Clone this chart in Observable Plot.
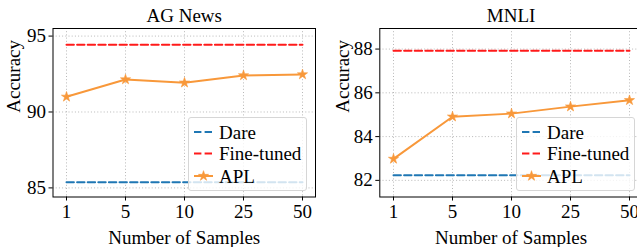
<!DOCTYPE html>
<html>
<head>
<meta charset="utf-8">
<script src="https://cdn.jsdelivr.net/npm/d3@7"></script>
<script src="https://cdn.jsdelivr.net/npm/@observablehq/plot@0.6"></script>
<style>
  html, body { margin: 0; padding: 0; background: #fff; overflow: hidden; }
  #root { position: relative; width: 637px; height: 247px; overflow: hidden; font-family: "Liberation Serif", "Times New Roman", "DejaVu Serif", serif; }
  .panel { position: absolute; top: 0; }
  .panel svg { max-width: none !important; }
  .panel svg, .panel svg text { font-family: "Liberation Serif", "Times New Roman", "DejaVu Serif", serif !important; }
  .legend { position: absolute; box-sizing: border-box; border: 1px solid #d6d6d6; border-radius: 3px; background: rgba(255,255,255,0.8); }
  .legend text { font-family: "Liberation Serif", "Times New Roman", "DejaVu Serif", serif; }
</style>
</head>
<body>
<div id="root"></div>
<script>
// ---- data ----
const samples = ["1", "5", "10", "25", "50"];
const agTitle = "AG News";
const agAPL = [91.0, 92.14, 91.93, 92.41, 92.47];
const agDare = 85.37;
const agFine = 94.43;
const agTicks = [85, 90, 95];
const mnTitle = "MNLI";
const mnAPL = [82.98, 84.91, 85.05, 85.37, 85.66];
const mnDare = 82.23;
const mnFine = 87.92;
const mnTicks = [82, 84, 86, 88];
const seriesNames = ["Dare", "Fine-tuned", "APL"];
const colors = {"Dare": "#1f77b4", "Fine-tuned": "#ff1a1a", "APL": "#f8983a"};

const FONT = "'Liberation Serif', 'Times New Roman', 'DejaVu Serif', serif";
const FS = 19;
const dash = "7.4,3.2";

function panel({title, apl, dare, fine, ticks, yDomain, left, width, mLeft, mRight, yLabelDx}) {
  const aplRows = samples.map((s, i) => ({s, v: apl[i]}));
  const dareRows = samples.map(s => ({s, v: dare}));
  const fineRows = samples.map(s => ({s, v: fine}));
  const chart = Plot.plot({
    width, height: 247,
    marginLeft: mLeft, marginRight: mRight, marginTop: 28, marginBottom: 50.5,
    style: {fontFamily: FONT, fontSize: FS + "px", color: "#000", background: "transparent", overflow: "visible", maxWidth: "none"},
    x: {type: "point", domain: samples, padding: 0.2},
    y: {domain: yDomain},
    marks: [
      Plot.gridX(samples, {stroke: "#b8b8b8", strokeOpacity: 1, strokeDasharray: "1,2.2", strokeWidth: 1}),
      Plot.gridY(ticks, {stroke: "#b8b8b8", strokeOpacity: 1, strokeDasharray: "1,2.2", strokeWidth: 1}),
      Plot.line(dareRows, {x: "s", y: "v", stroke: colors["Dare"], strokeWidth: 2, strokeDasharray: dash}),
      Plot.line(fineRows, {x: "s", y: "v", stroke: colors["Fine-tuned"], strokeWidth: 2, strokeDasharray: dash}),
      Plot.line(aplRows, {x: "s", y: "v", stroke: colors["APL"], strokeWidth: 2}),
      Plot.dot(aplRows, {x: "s", y: "v", symbol: "star", r: 3.2, fill: colors["APL"], stroke: colors["APL"], strokeWidth: 0.6}),
      Plot.frame({stroke: "#000", strokeWidth: 1}),
      Plot.axisX(samples, {tickSize: 4, tickPadding: 3, label: null, fontSize: FS, tickFormat: d => d}),
      Plot.axisY(ticks, {tickSize: 4, tickPadding: 3, label: null, fontSize: FS}),
      Plot.text([title], {frameAnchor: "top", dy: -13, lineAnchor: "middle", fontSize: FS, fill: "#000"}),
      Plot.text(["Number of Samples"], {frameAnchor: "bottom", dy: 40.5, lineAnchor: "middle", fontSize: FS, fill: "#000"}),
      Plot.text(["Accuracy"], {frameAnchor: "left", dx: yLabelDx, rotate: -90, lineAnchor: "middle", fontSize: FS, fill: "#000"})
    ]
  });
  const wrap = document.createElement("div");
  wrap.className = "panel";
  wrap.style.left = left + "px";
  wrap.style.width = width + "px";
  wrap.appendChild(chart);
  return wrap;
}

function legend(left, top) {
  const w = 119, h = 74;
  const div = document.createElement("div");
  div.className = "legend";
  div.style.left = left + "px";
  div.style.top = top + "px";
  div.style.width = w + "px";
  div.style.height = h + "px";
  const svg = d3.create("svg").attr("width", w).attr("height", h).style("position", "absolute").style("left", "-1px").style("top", "-1px");
  const rowsY = [15, 36.5, 59];
  seriesNames.forEach((name, i) => {
    const y = rowsY[i];
    const g = svg.append("g");
    g.append("line").attr("x1", 6).attr("x2", 25).attr("y1", y).attr("y2", y)
      .attr("stroke", colors[name]).attr("stroke-width", 2)
      .attr("stroke-dasharray", name === "APL" ? null : dash);
    if (name === "APL") {
      g.append("path").attr("d", d3.symbol(d3.symbolStar, 32)()).attr("transform", `translate(15.5,${y})`)
        .attr("fill", colors[name]).attr("stroke", colors[name]).attr("stroke-width", 0.6);
    }
    g.append("text").attr("x", 31).attr("y", y).attr("dy", "0.35em")
      .attr("font-size", FS).attr("fill", "#000").text(name);
  });
  div.appendChild(svg.node());
  return div;
}

const root = document.getElementById("root");
root.appendChild(panel({title: agTitle, apl: agAPL, dare: agDare, fine: agFine, ticks: agTicks,
  yDomain: [84.4, 95.5], left: 0, width: 320, mLeft: 52.5, mRight: 5, yLabelDx: -39.5}));
root.appendChild(panel({title: mnTitle, apl: mnAPL, dare: mnDare, fine: mnFine, ticks: mnTicks,
  yDomain: [81.24, 88.94], left: 317, width: 330, mLeft: 62.3, mRight: 5.2, yLabelDx: -37}));
root.appendChild(legend(188, 117));
root.appendChild(legend(516, 117));
</script>
</body>
</html>
